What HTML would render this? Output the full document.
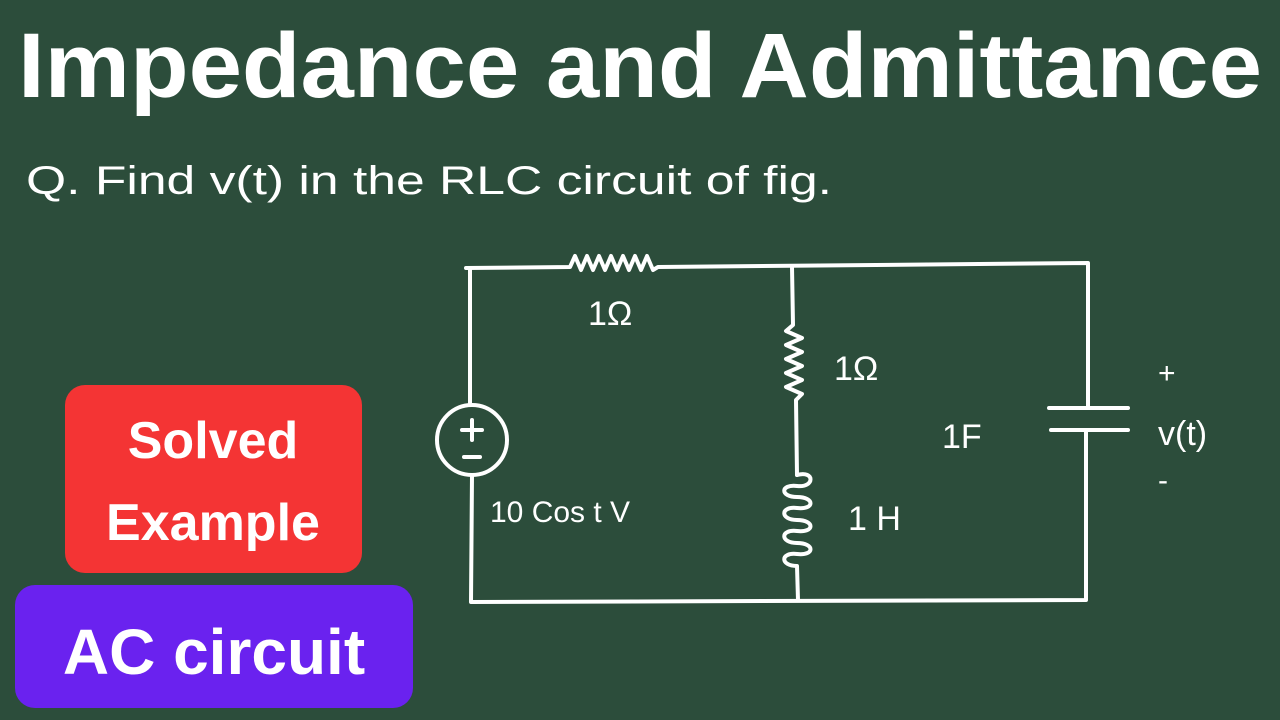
<!DOCTYPE html>
<html><head><meta charset="utf-8"><style>
html,body{margin:0;padding:0;background:#2c4d3b;width:1280px;height:720px;overflow:hidden}
svg{display:block}
</style></head><body>
<svg width="1280" height="720" viewBox="0 0 1280 720" xmlns="http://www.w3.org/2000/svg">
<rect width="1280" height="720" fill="#2c4d3b"/>
<text x="18" y="97" font-family="Liberation Sans, sans-serif" font-weight="bold" font-size="92" fill="#fff" textLength="1244" lengthAdjust="spacingAndGlyphs">Impedance and Admittance</text>
<text x="26" y="194" font-family="Liberation Sans, sans-serif" font-size="40" fill="#fff" textLength="806" lengthAdjust="spacingAndGlyphs">Q. Find v(t) in the RLC circuit of fig.</text>

<rect x="65" y="385" width="297" height="188" rx="20" fill="#f43434"/>
<text x="213" y="458" text-anchor="middle" font-family="Liberation Sans, sans-serif" font-weight="bold" font-size="52" fill="#fff">Solved</text>
<text x="213" y="540" text-anchor="middle" font-family="Liberation Sans, sans-serif" font-weight="bold" font-size="52" fill="#fff">Example</text>
<rect x="15" y="585" width="398" height="123" rx="20" fill="#6a22ef"/>
<text x="214" y="674" text-anchor="middle" font-family="Liberation Sans, sans-serif" font-weight="bold" font-size="64" fill="#fff">AC circuit</text>

<g stroke="#fff" stroke-width="4" fill="none" stroke-linecap="round" stroke-linejoin="round">
<!-- left wire -->
<path d="M466 268 L570 267 L575 256 L581 270 L587 256 L593 270 L599 256 L605 270 L611 256 L617 270 L623 256 L629 270 L635 256 L641 270 L647 256 L653 270 L658 267 L1088 263 L1088 408"/>
<path d="M470 268 L470 405"/>
<circle cx="472" cy="440" r="35"/>
<path d="M472 475 L471 602 L1086 600 L1086 430"/>
<path d="M462 430 L482 430 M472 420 L472 440 M464 457 L480 457"/>
<!-- middle branch -->
<path d="M792 267 L793 325 L786 331 L802 338 L786 345 L802 352 L786 359 L802 366 L786 373 L802 380 L786 387 L802 394 L796 400 L797 475"/>
<path d="M797 475 C815 470 815 488 797 486 C780 484 780 497 797 497 C815 497 815 510 797 508 C780 506 780 520 797 520 C815 520 815 533 797 531 C780 529 780 543 797 543 C815 543 815 556 797 554 C780 552 780 566 797 566 L798 600"/>
<!-- capacitor -->
<path d="M1049 408 L1128 408 M1051 430 L1128 430"/>
</g>

<g fill="#fff" font-family="Liberation Sans, sans-serif" font-size="34">
<text x="588" y="325">1Ω</text>
<text x="834" y="380">1Ω</text>
<text x="942" y="448">1F</text>
<text x="848" y="530">1 H</text>
<text x="490" y="522" font-size="30">10 Cos t V</text>
<text x="1158" y="383" font-size="30">+</text>
<text x="1158" y="445" font-size="34">v(t)</text>
<text x="1158" y="490" font-size="30">-</text>
</g>
</svg>
</body></html>
